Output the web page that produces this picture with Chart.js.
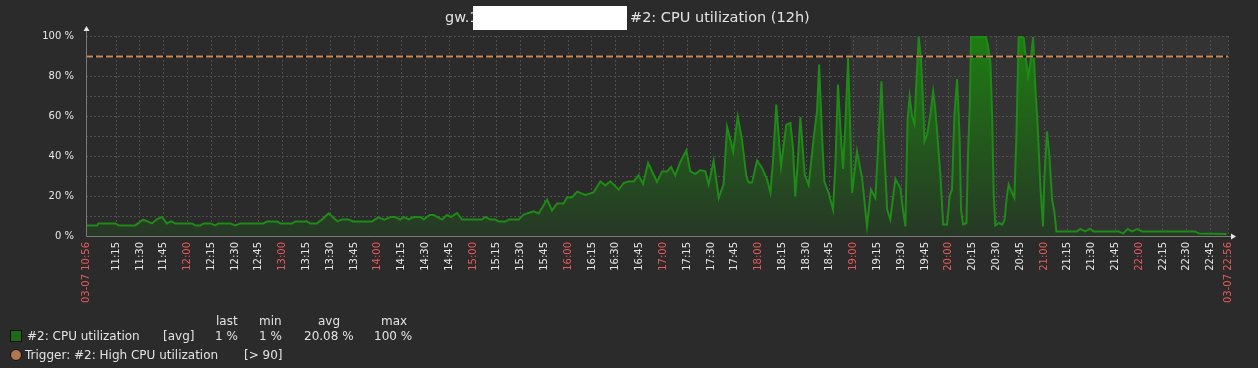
<!DOCTYPE html>
<html>
<head>
<meta charset="utf-8">
<script src="https://cdn.jsdelivr.net/npm/chart.js@4/dist/chart.umd.min.js"></script>
<style>
  body { margin: 0; background: #2b2b2b; }
  #wrap { position: relative; width: 1258px; height: 368px; font-family: "DejaVu Sans", sans-serif; color: #e2e2e2; }
  #wrap span, #wrap div.t { position: absolute; white-space: nowrap; }
  .title { font-size: 14.5px; top: 9px; }
  .lg { font-size: 12px; }
  .box { position: absolute; background: #fff; }
  .sq { position: absolute; width: 10px; height: 10px; background: #1d6b17; border: 1px solid #111; }
  .dot { position: absolute; width: 10px; height: 10px; border-radius: 50%; background: #b0784c; border: 1px solid #111; }
</style>
</head>
<body>
<div id="wrap">
  <canvas id="myChart" width="1258" height="368"></canvas>
  <span class="title" style="left:445px">gw.1</span>
  <div class="box" style="left:473px; top:6px; width:154px; height:24px"></div>
  <span class="title" style="left:630px">#2: CPU utilization (12h)</span>

  <span class="lg" style="left:216px; top:314px">last</span>
  <span class="lg" style="left:259px; top:314px">min</span>
  <span class="lg" style="left:318px; top:314px">avg</span>
  <span class="lg" style="left:381px; top:314px">max</span>

  <div class="sq" style="left:10px; top:330px"></div>
  <span class="lg" style="left:27px; top:329px">#2: CPU utilization</span>
  <span class="lg" style="left:163px; top:329px">[avg]</span>
  <span class="lg" style="left:215px; top:329px">1 %</span>
  <span class="lg" style="left:259px; top:329px">1 %</span>
  <span class="lg" style="left:304px; top:329px">20.08 %</span>
  <span class="lg" style="left:374px; top:329px">100 %</span>

  <div class="dot" style="left:10px; top:349px"></div>
  <span class="lg" style="left:25px; top:348px">Trigger: #2: High CPU utilization</span>
  <span class="lg" style="left:244px; top:348px">[&gt; 90]</span>
</div>
<script>
// minutes after 03-07 10:56, and CPU utilization in %
var minutes = [0,7,8,18.5,20.6,31,36,41.6,44.8,47.9,51,53.6,56.3,66.8,68.9,72,74.2,78.4,81.5,83.6,
  91,94.1,97.3,112,114,120.4,122.5,129.9,132,139.3,141.4,145.6,148.8,153,158.6,161.4,165.6,168.3,180.3,184.5,
  188.1,191.9,195,198.2,200.3,203.4,206.6,210.8,212.9,216.7,219.2,224.5,227.6,230.1,233.9,
  237.1,249.7,251.8,254.9,258.1,260.2,264.4,266.5,272.8,275.9,282.2,285.4,290.7,293.8,297,301.1,303.3,306.4,309.6,314.8,
  320,324.3,327.4,330.6,335.8,339,342.1,345.3,348.4,351.2,354.4,360,363.2,366.3,368.9,371.5,374.7,378.5,381,384.2,
  387.3,390.5,392.6,395.7,398.9,402,
  404.2,406.3,408,410.9,413.6,416.3,417.8,419.9,423.1,426.2,429.4,431.5,433.2,435.2,438.2,441.5,444.1,445.8,447.2,448.7,
  450.4,453.1,455.6,458.8,460.9,462.2,464.1,465.5,468.2,471,472.5,474.1,476,477.3,478.8,480.5,483,486.1,489.3,492.4,
  494.9,497.7,499.7,501.5,502.9,505.1,507.1,510.3,513.4,515.2,516.6,
  518,519.3,520.8,522.3,523.5,525,526.5,527.8,528.6,530.3,532.3,534.1,535.5,537,538.7,540.4,542.9,544.5,546,547.5,
  549.2,550.8,551.7,553,555.1,556.1,557.2,558,560.7,565,567.1,568.5,570.2,571.3,572.3,573.3,575.5,577.6,579.2,580.3,
  581.7,583.9,585.3,586.6,588,591.2,592.9,594,595.4,597.1,598.6,600,601.7,603.4,604.2,605.9,607.4,609.1,610.5,611.8,
  624.8,626.9,630.1,632.8,635.3,651.1,653.8,656.7,659.5,662.7,665.8,699.4,701.5,719];
var cpu = [5.3,5.3,6.3,6.3,5.3,5.3,8.2,6.3,8.5,9.5,6.3,7.3,6.3,6.3,5.3,5.3,6.3,6.3,5.3,6.3,
  6.3,5.3,6.3,6.3,7.3,7.3,6.3,6.3,7.3,7.3,6.3,6.3,8.2,11.3,7.3,8.3,8.3,7.3,7.3,9.3,
  8.2,9.5,9.5,8.2,9.5,8.3,9.5,9.5,8.3,10.5,10.5,8.2,10.5,9.5,11.5,
  8.2,8.2,9.5,8.2,8.2,7.2,7.2,8.2,8.2,10.7,12.3,11.3,18.2,12.8,16.3,16.3,19.3,19.3,22.2,20.5,
  21.8,27.3,25.3,27.3,23.2,26.5,27.3,27.3,30.3,26,36.5,27,32.3,32.3,34.5,30.3,37,42.7,32.3,31,
  33,32.3,25.7,37.7,19,26,
  54.5,48,42.3,59.8,48,30,26.7,26.7,37.7,34,28.3,21.8,38,65.7,34.8,55.7,56.5,43.5,19.8,36.2,
  59.5,30.7,25.5,49,62.5,85.7,49,27.3,21.5,13.2,36.2,75.7,49,33.5,56.5,89,21.5,42.3,29,4.8,
  23.2,19,49,77.3,49,13.2,8.2,28.5,24,12.3,4.8,
  58.2,69.8,59.8,56,76.5,99.5,88,65,47.3,50.7,60.5,72.3,63,48,30,5.7,5.7,19.8,23.2,60.5,
  78.5,49,13.2,5.7,6.5,41.5,65,100,99.5,99.5,100,96,86.5,59.8,19.8,5.2,6.5,5.7,8.2,18,
  25.7,21.5,19,49.8,100,99,86.5,79.8,86.5,99.5,73,55.2,24.8,4.8,28.3,52.3,40,18,12.3,2.3,
  2.3,3.5,2.3,3.5,2.3,2.3,1.2,3.5,2.3,3.5,2.3,2.3,1.2,1];

var tickLabels = ['03-07 10:56','11:15','11:30','11:45','12:00','12:15','12:30','12:45','13:00','13:15','13:30','13:45',
  '14:00','14:15','14:30','14:45','15:00','15:15','15:30','15:45','16:00','16:15','16:30','16:45',
  '17:00','17:15','17:30','17:45','18:00','18:15','18:30','18:45','19:00','19:15','19:30','19:45',
  '20:00','20:15','20:30','20:45','21:00','21:15','21:30','21:45','22:00','22:15','22:30','22:45','03-07 22:56'];
var yTicks = [0, 20, 40, 60, 80, 100];
var triggerValue = 90;
var shadeFrom = 482; // lighter period starts ~18:58

function toMin(lbl){
  var hm = lbl.slice(-5).split(':');
  return (+hm[0]) * 60 + (+hm[1]) - (10 * 60 + 56);
}
var tickMinutes = tickLabels.map(toMin);

var pts = [];
for (var i = 0; i < minutes.length; i++) pts.push({x: minutes[i], y: cpu[i]});

var zbx = {
  id: 'zbx',
  beforeDraw: function(chart){
    var c = chart.ctx, a = chart.chartArea, xs = chart.scales.x;
    c.save();
    c.fillStyle = '#2b2b2b';
    c.fillRect(0, 0, chart.width, chart.height);
    c.fillStyle = '#333333';
    var x0 = xs.getPixelForValue(shadeFrom);
    c.fillRect(x0, a.top, a.right - x0, a.bottom - a.top);
    c.restore();
  },
  afterDatasetsDraw: function(chart){
    var c = chart.ctx, a = chart.chartArea, ys = chart.scales.y;
    var ty = Math.round(ys.getPixelForValue(triggerValue)) + 0.5;
    c.save();
    c.lineWidth = 2;
    c.strokeStyle = '#151515';
    c.beginPath(); c.moveTo(a.left, ty); c.lineTo(a.right, ty); c.stroke();
    c.strokeStyle = '#c98a58';
    c.setLineDash([7, 3]);
    c.beginPath(); c.moveTo(a.left, ty); c.lineTo(a.right, ty); c.stroke();
    c.setLineDash([]);
    // axes
    c.lineWidth = 1;
    c.strokeStyle = '#7a7a7a';
    var lx = Math.round(a.left) + 0.5, by = Math.round(a.bottom) + 0.5;
    c.beginPath(); c.moveTo(lx, by); c.lineTo(lx, a.top - 7); c.stroke();
    c.beginPath(); c.moveTo(lx, by); c.lineTo(a.right + 5, by); c.stroke();
    c.fillStyle = '#e8e8e8';
    c.beginPath(); c.moveTo(lx - 3, a.top - 5); c.lineTo(lx + 3, a.top - 5); c.lineTo(lx, a.top - 10); c.closePath(); c.fill();
    c.beginPath(); c.moveTo(a.right + 3, by - 3); c.lineTo(a.right + 3, by + 3); c.lineTo(a.right + 8, by); c.closePath(); c.fill();
    c.restore();
  }
};

new Chart("myChart", {
  type: "line",
  data: {
    datasets: [{
      label: '#2: CPU utilization',
      data: pts,
      borderColor: '#1f8a17',
      borderWidth: 2,
      pointRadius: 0,
      tension: 0,
      fill: 'origin',
      backgroundColor: function(ctx){
        var a = ctx.chart.chartArea;
        if (!a) return 'rgba(30,120,20,0.5)';
        var g = ctx.chart.ctx.createLinearGradient(0, a.top, 0, a.bottom);
        g.addColorStop(0, '#1e7d12');
        g.addColorStop(1, '#273826');
        return g;
      }
    }]
  },
  options: {
    responsive: false,
    animation: false,
    devicePixelRatio: 1,
    layout: { padding: { left: 0, top: 36, right: 30, bottom: 0 } },
    plugins: { legend: { display: false }, tooltip: { enabled: false } },
    scales: {
      x: {
        type: 'linear',
        min: 0, max: 720,
        afterBuildTicks: function(s){ s.ticks = tickMinutes.map(function(v){ return {value: v}; }); },
        afterFit: function(s){ s.height = 132; },
        grid: { color: '#4e4e4e', drawTicks: false },
        border: { display: false, dash: [2, 2] },
        ticks: {
          autoSkip: false,
          minRotation: 90, maxRotation: 90,
          padding: 6,
          font: { family: 'DejaVu Sans', size: 10 },
          color: function(ctx){
            var l = tickLabels[ctx.index] || '';
            return (l.indexOf('03-07') === 0 || l.slice(-2) === '00') ? '#e65a5a' : '#e6e6e6';
          },
          callback: function(v, i){ return tickLabels[i]; }
        }
      },
      y: {
        min: 0, max: 100,
        afterFit: function(s){ s.width = 86; },
        afterBuildTicks: function(s){
          var t = [];
          for (var v = 0; v <= 100; v += 10) t.push({value: v});
          s.ticks = t;
        },
        grid: { color: '#4e4e4e', drawTicks: false },
        border: { display: false, dash: [2, 2] },
        ticks: {
          padding: 12,
          font: { family: 'DejaVu Sans', size: 10 },
          color: '#e6e6e6',
          callback: function(v){ return yTicks.indexOf(v) >= 0 ? v + ' %' : ''; }
        }
      }
    }
  },
  plugins: [zbx]
});
</script>
</body>
</html>
